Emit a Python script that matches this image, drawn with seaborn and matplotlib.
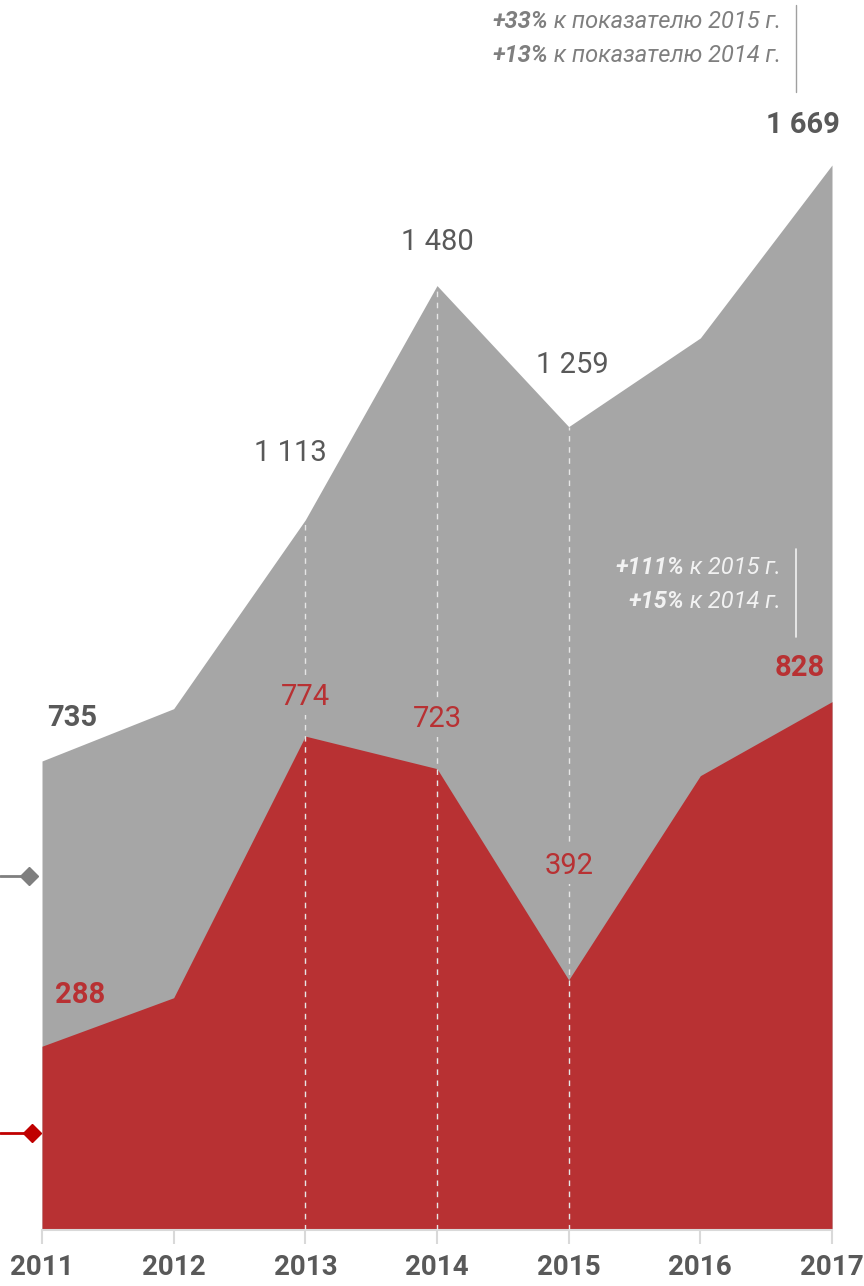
import matplotlib
matplotlib.use("Agg")
import matplotlib.pyplot as plt
import seaborn as sns
import numpy as np
from matplotlib.lines import Line2D

years = [2011, 2012, 2013, 2014, 2015, 2016, 2017]
total = [735, 817, 1113, 1480, 1259, 1398, 1669]
part = [288, 364, 774, 723, 392, 712, 828]
total_labels = ["735", None, "1 113", "1 480", "1 259", None, "1 669"]
part_labels = ["288", None, "774", "723", "392", None, "828"]
dashed_years = [2013, 2014, 2015]
top_note_bold = ["+33%", "+13%"]
top_note_rest = [" к показателю 2015 г.", " к показателю 2014 г."]
mid_note_bold = ["+111%", "+15%"]
mid_note_rest = [" к 2015 г.", " к 2014 г."]

GREY = "#a6a6a6"
RED = "#b83133"
DARK = "#595959"

sns.set_theme(style="white")
FONT = ["Roboto", "DejaVu Sans"]
plt.rcParams["font.family"] = FONT

W, H = 864, 1286
fig = plt.figure(figsize=(W / 100, H / 100), dpi=100)
x0, x1, yb = 42, 832, 1230
ax = fig.add_axes([x0 / W, (H - yb) / H, (x1 - x0) / W, yb / H])
scale = (1230 - 165) / 1669
ax.set_xlim(2011, 2017)
ax.set_ylim(0, 1230 / scale)

ax.fill_between(years, total, 0, color=GREY, linewidth=0, zorder=1)
ax.fill_between(years, part, 0, color=RED, linewidth=0, zorder=2)

for y in dashed_years:
    i = years.index(y)
    ax.plot([y, y], [0, total[i]], color="#e6e6e6", lw=1, ls=(0, (4, 4)), zorder=3)

for s in ["top", "right", "left"]:
    ax.spines[s].set_visible(False)
ax.spines["bottom"].set_color("#d9d9d9")
ax.spines["bottom"].set_linewidth(1.5)
ax.set_yticks([])
ax.set_xticks(years)
ax.set_xticklabels([str(y) for y in years], fontsize=20, fontweight="bold", color=DARK)
ax.tick_params(axis="x", direction="out", length=10, width=1.5, color="#d9d9d9", pad=7, bottom=True)

# labels: offsets in pixels
tot_off = [(30, 43), None, (-15, 67), (0, 44), (4, 62), None, (-29, 40)]
tot_bold = [True, False, False, False, False, False, True]
for i, lab in enumerate(total_labels):
    if lab is None:
        continue
    ax.annotate(lab, (years[i], total[i]), xytext=tot_off[i], textcoords="offset pixels",
                ha="center", va="center", fontsize=21, color=DARK,
                fontweight="bold" if tot_bold[i] else "normal", zorder=5, annotation_clip=False)

part_off = [(38, 51), None, (0, 39), (0, 50), (0, 114), None, (-32, 34)]
part_bold = [True, False, False, False, False, False, True]
for i, lab in enumerate(part_labels):
    if lab is None:
        continue
    bb = None
    if not part_bold[i]:
        bb = dict(boxstyle="square,pad=0.15", fc=GREY, ec="none")
    ax.annotate(lab, (years[i], part[i]), xytext=part_off[i], textcoords="offset pixels",
                ha="center", va="center", fontsize=21, color=RED,
                fontweight="bold" if part_bold[i] else "normal", zorder=5, bbox=bb,
                annotation_clip=False)

# notes with mixed styling
fig.canvas.draw()
renderer = fig.canvas.get_renderer()

def note(xr, ypx, bold, rest, color, size):
    t = fig.text(xr / W, 1 - ypx / H, rest, ha="right", va="center", fontsize=size,
                 style="italic", color=color)
    fig.canvas.draw()
    ext = t.get_window_extent(renderer)
    fig.text(ext.x0 / W, 1 - ypx / H, bold, ha="right", va="center", fontsize=size,
             style="italic", fontweight="bold", color=color)

for k in range(2):
    note(781, 22 + 34 * k, top_note_bold[k], top_note_rest[k], "#7f7f7f", 17)
    note(781, 567 + 34 * k, mid_note_bold[k], mid_note_rest[k], "#f2f2f2", 17)

fig.add_artist(Line2D([796 / W, 796 / W], [1 - 5 / H, 1 - 92 / H], color="#a0a0a0", lw=1))
fig.add_artist(Line2D([796 / W, 796 / W], [1 - 549 / H, 1 - 637 / H], color="#f2f2f2", lw=1.2))

# legend-like markers on left
fig.add_artist(Line2D([0, 29 / W], [1 - 876 / H] * 2, color="#7f7f7f", lw=2))
fig.add_artist(Line2D([29 / W], [1 - 876 / H], marker="D", ms=9, color="#7f7f7f", lw=0))
fig.add_artist(Line2D([0, 32 / W], [1 - 1133 / H] * 2, color="#c00000", lw=2))
fig.add_artist(Line2D([32 / W], [1 - 1133 / H], marker="D", ms=9, color="#c00000", lw=0))

fig.savefig("out.png", dpi=100, facecolor="white")
